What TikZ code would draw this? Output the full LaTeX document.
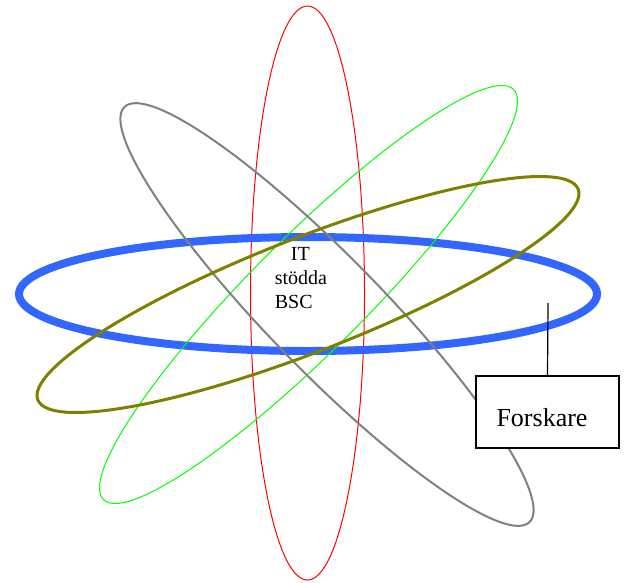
\documentclass[tikz,border=0pt]{standalone}
\usepackage{fontspec}
\setmainfont{Liberation Serif}
\definecolor{ringblue}{RGB}{51,102,255}
\definecolor{ringolive}{RGB}{128,128,0}
\definecolor{ringgreen}{RGB}{0,255,0}
\definecolor{ringgray}{RGB}{128,128,128}
\tikzset{
  ring/.style={line width=#1},
  labeltext/.style={font=\fontsize{20}{24}\selectfont, align=left, inner sep=0pt},
  boxnode/.style={draw=black, fill=white, line width=1.2pt, minimum width=143pt, minimum height=72pt, inner sep=0pt},
  boxtext/.style={font=\fontsize{26}{30}\selectfont, inner sep=0pt}
}
\begin{document}
\begin{tikzpicture}[x=1pt,y=-1pt]
\useasboundingbox (0,0) rectangle (628,582);
% red vertical ring
\draw[red, ring=1pt] (307.5,293) ellipse (57 and 287);
% blue horizontal ring
\draw[ringblue, ring=8pt] (308,294) ellipse (289 and 57);
% green ring
\draw[ringgreen, ring=1pt, rotate around={45:(308.5,294.5)}] (308.5,294.5) ellipse (290 and 57);
% gray ring
\draw[ringgray, ring=2pt, rotate around={-45.7:(327,314.5)}] (327,314.5) ellipse (290 and 57);
% olive ring
\draw[ringolive, ring=3pt, rotate around={21.3:(308,294.5)}] (308,294.5) ellipse (290 and 57);
% central label
\node[labeltext] (center) at (301,278) {\hspace*{16pt}IT\\stödda\\BSC};
% Forskare box
\node[boxnode] (box) at (547.5,412) {};
\node[boxtext] (boxlabel) at (542,418) {Forskare};
\coordinate (lineTop) at (548,303);
\draw[line width=1.2pt] (lineTop) -- (box.north);
\end{tikzpicture}
\end{document}
